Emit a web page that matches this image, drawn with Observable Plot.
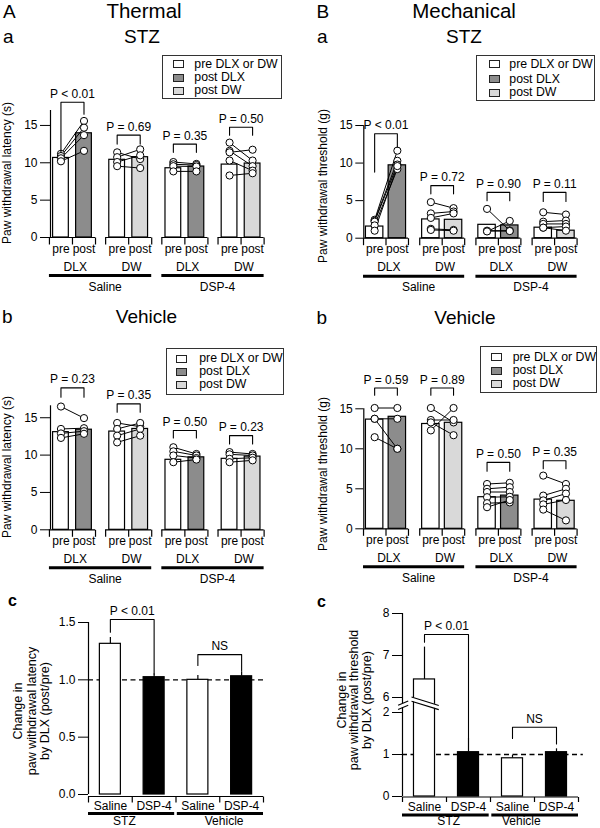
<!DOCTYPE html>
<html><head><meta charset="utf-8">
<script src="https://cdn.jsdelivr.net/npm/d3@7"></script>
<script src="https://cdn.jsdelivr.net/npm/@observablehq/plot@0.6"></script>
<style>
body{margin:0;background:#fff;}
#root{position:relative;width:600px;height:828px;overflow:hidden;font-family:'Liberation Sans',Arial,Helvetica,sans-serif;color:#000;background:#fff;}
.abs{position:absolute;line-height:1;white-space:nowrap;}
.panel{position:absolute;width:300px;}
.panel svg{overflow:visible;}
.leg{position:absolute;border:1px solid #333;box-sizing:border-box;background:#fff;}
.leg .abs{line-height:11px;}
.sq{position:absolute;width:11px;height:8px;border:1px solid #222;box-sizing:border-box;}
</style></head><body><div id="root"></div>
<script>
const FONT = "'Liberation Sans', Arial, Helvetica, sans-serif";
const WHITE = "#ffffff", DARK = "#8c8c8c", LIGHT = "#d9d9d9", BLACK = "#000000";

// ---- shared categories ----
const groupLabels = ["DLX", "DW", "DLX", "DW"];
const treatmentLabels = ["Saline", "DSP-4"];
const phaseLabels = ["pre", "post"];
const postFills = [DARK, LIGHT, DARK, LIGHT];
const legendLabels = ["pre DLX or DW", "post DLX", "post DW"];
const legendFills = [WHITE, DARK, LIGHT];

// ---- A-a Thermal / STZ ----
const thermStzPre = [10.65, 10.4, 9.27, 9.76];
const thermStzPost = [13.95, 10.75, 9.5, 9.9];
const thermStzP = ["P < 0.01", "P = 0.69", "P = 0.35", "P = 0.50"];
const thermStzBracket = [18.1, 13.7, 12.5, 14.75];
const thermStzLegPre = [11.4, 12.5, 11.4, 13.7];
const thermStzLegPost = [16.5, 12.5, 11.4, 13.7];
const thermStzRats = [
  [[11.2, 15.6], [10.9, 14.7], [10.6, 13.7], [10.2, 11.6]],
  [[11.4, 10.5], [10.75, 11.8], [10.1, 11.0], [9.55, 9.3]],
  [[10.1, 9.85], [9.8, 9.7], [9.55, 9.5], [8.85, 8.85]],
  [[12.7, 10.3], [11.6, 9.55], [11.4, 11.75], [10.3, 8.95], [8.3, 8.6]]
];
const thermTicks = [0, 5, 10, 15];

// ---- A-b Thermal / Vehicle ----
const thermVehPre = [13.07, 13.15, 9.37, 9.5];
const thermVehPost = [13.4, 13.5, 9.7, 9.8];
const thermVehP = ["P = 0.23", "P = 0.35", "P = 0.50", "P = 0.23"];
const thermVehBracket = [19.0, 16.85, 13.3, 12.6];
const thermVehLegPre = [17.75, 15.75, 12.3, 11.5];
const thermVehLegPost = [17.75, 15.75, 12.3, 11.5];
const thermVehRats = [
  [[16.5, 14.95], [13.5, 13.6], [12.9, 13.2], [12.3, 12.85]],
  [[14.3, 13.8], [13.5, 14.3], [12.6, 13.5], [11.7, 12.6]],
  [[11.05, 10.15], [10.5, 9.95], [9.95, 9.6], [9.05, 9.4]],
  [[10.4, 10.15], [10.1, 9.95], [9.5, 9.65], [9.05, 9.3]]
];

// ---- B-a Mechanical / STZ ----
const mechStzPre = [1.55, 2.5, 1.78, 1.4];
const mechStzPost = [9.7, 2.45, 1.7, 1.0];
const mechStzP = ["P < 0.01", "P = 0.72", "P = 0.90", "P = 0.11"];
const mechStzBracket = [13.9, 7.0, 6.1, 6.1];
const mechStzLegPre = [8.8, 5.9, 5.0, 4.9];
const mechStzLegPost = [12.1, 5.9, 5.0, 4.9];
const mechStzRats = [
  [[2.45, 11.65], [2.3, 10.3], [2.2, 9.8], [1.7, 9.2], [1.0, 9.6]],
  [[4.8, 4.0], [3.3, 3.55], [2.7, 3.3], [1.25, 1.1], [1.1, 1.0]],
  [[3.9, 1.0], [1.0, 1.0], [0.95, 0.95], [0.9, 2.3]],
  [[3.45, 3.15], [2.2, 2.35], [1.9, 1.9], [1.4, 1.55], [1.4, 1.0]]
];
const mechTicks = [0, 5, 10, 15];

// ---- B-b Mechanical / Vehicle ----
const mechVehPre = [13.65, 13.1, 3.95, 3.65];
const mechVehPost = [14.0, 13.25, 4.15, 3.5];
const mechVehP = ["P = 0.59", "P = 0.89", "P = 0.50", "P = 0.35"];
const mechVehBracket = [17.6, 17.6, 8.3, 8.5];
const mechVehLegPre = [16.7, 16.7, 7.2, 7.5];
const mechVehLegPost = [16.7, 16.7, 7.2, 7.5];
const mechVehRats = [
  [[15.1, 15.1], [13.75, 13.75], [13.75, 10.0], [11.45, 10.0]],
  [[15.1, 13.3], [13.6, 13.6], [12.3, 15.1], [13.3, 11.7]],
  [[5.6, 5.75], [5.0, 5.2], [4.6, 4.6], [3.95, 4.0], [3.2, 3.3], [2.7, 3.6]],
  [[6.65, 5.6], [4.15, 5.0], [3.55, 4.4], [3.05, 3.6], [2.4, 1.05]]
];

// ---- c panels: change by DLX (post/pre) ----
const ratioLabels = ["Saline", "DSP-4", "Saline", "DSP-4"];
const ratioGroups = ["STZ", "Vehicle"];
const ratioFills = [WHITE, BLACK, WHITE, BLACK];
const ratioCompare = ["P < 0.01", "NS"];
const thermRatio = [1.314, 1.023, 1.0, 1.031];
const thermRatioErr = [1.37, 1.05, 1.037, 1.07];
const thermRatioTicks = [0, 0.5, 1.0, 1.5];
const thermCompareTop = [1.526, 1.22];
const thermCompareLegs = [[1.415, 1.05], [1.125, 1.08]];
const mechRatio = [6.43, 1.055, 0.91, 1.055];
const mechRatioErr = [7.2, 1.37, 0.98, 1.135];
const mechRatioTicks = [0, 1, 2, 6, 7, 8];
const mechCompareTop = [7.5, 1.65];
const mechCompareLegs = [[7.317, 1.37], [1.38, 1.25]];
const mechBreak = [2, 6];   // axis break between these values

// ================= helpers =================
const root = document.getElementById("root");
const tickDown = (len) => ({draw(ctx) { ctx.moveTo(0, 0); ctx.lineTo(0, len); }});
const baseStyle = {fontFamily: FONT, fontSize: "12px", color: "black", background: "transparent", overflow: "visible"};

function place(node, left, top) {
  const d = document.createElement("div");
  d.className = "panel";
  d.style.left = left + "px";
  d.style.top = top + "px";
  d.appendChild(node);
  root.appendChild(d);
}
function txt(text, o) {
  const d = document.createElement("div");
  d.className = "abs";
  d.textContent = text;
  d.style.fontSize = o.fs + "px";
  if (o.weight) d.style.fontWeight = o.weight;
  d.style.top = (o.baseline - 0.8465 * o.fs) + "px";
  if (o.cx !== undefined) { d.style.left = o.cx + "px"; d.style.transform = "translateX(-50%)"; }
  else d.style.left = o.left + "px";
  root.appendChild(d);
}
function vlabel(lines, cx, cy, fs, lh) {
  const d = document.createElement("div");
  d.style.cssText = `position:absolute;left:${cx}px;top:${cy}px;transform:translate(-50%,-50%) rotate(-90deg);font-size:${fs}px;line-height:${lh}px;text-align:center;white-space:nowrap;`;
  lines.forEach((l, i) => { if (i) d.appendChild(document.createElement("br")); d.appendChild(document.createTextNode(l)); });
  root.appendChild(d);
}
function legend(b) {
  const box = document.createElement("div");
  box.className = "leg";
  box.style.cssText += `left:${b.left}px;top:${b.top}px;width:${b.width}px;height:${b.height}px;`;
  legendLabels.forEach((l, i) => {
    const sq = document.createElement("div");
    sq.className = "sq";
    sq.style.left = b.sqLeft + "px";
    sq.style.top = (b.rows[i] - 4) + "px";
    sq.style.background = legendFills[i];
    box.appendChild(sq);
    const t = document.createElement("div");
    t.className = "abs";
    t.style.fontSize = "12.3px";
    t.style.left = b.textLeft + "px";
    t.style.top = (b.rows[i] - 5.8) + "px";
    t.textContent = l;
    box.appendChild(t);
  });
  root.appendChild(box);
}

// ================= paired pre/post panel =================
function pairedPanel(c) {
  const L = c.layout;
  const xRight = L.axisPx + (4 - L.axisUnit) * L.unitPx;
  const cx = (i) => i + 0.5;
  const off = L.offset;
  const bars = [], links = [], dots = [], brackets = [];
  groupLabels.forEach((g, i) => {
    bars.push({x1: cx(i) - off - L.halfBar, x2: cx(i) - off + L.halfBar, v: c.pre[i], fill: WHITE});
    bars.push({x1: cx(i) + off - L.halfBar, x2: cx(i) + off + L.halfBar, v: c.post[i], fill: postFills[i]});
  });
  c.rats.forEach((grp, i) => grp.forEach(([a, b]) => {
    links.push({x1: cx(i) - off, y1: a, x2: cx(i) + off, y2: b});
    dots.push({x: cx(i) - off, y: a}, {x: cx(i) + off, y: b});
  }));
  c.p.forEach((t, i) => {
    brackets.push({g: i, x: cx(i) - off, y: c.legPre[i]}, {g: i, x: cx(i) - off, y: c.bracket[i]},
                  {g: i, x: cx(i) + off, y: c.bracket[i]}, {g: i, x: cx(i) + off, y: c.legPost[i]});
  });
  const pText = c.p.map((t, i) => ({x: cx(i), y: c.bracket[i], t}));
  const groupRules = groupLabels.map((g, i) => ({x1: cx(i) - L.halfGroup, x2: cx(i) + L.halfGroup, y: 0}));
  const downTicks = groupLabels.flatMap((g, i) => [cx(i) - L.halfGroup, cx(i), cx(i) + L.halfGroup]).map((x) => ({x, y: 0}));
  const phaseText = groupLabels.flatMap((g, i) => phaseLabels.map((p, j) => ({x: cx(i) + (j ? off : -off), y: 0, t: p})));
  const groupText = groupLabels.map((g, i) => ({x: cx(i) + 0.05, y: 0, t: g}));
  const treatRules = treatmentLabels.map((t, k) => ({x1: cx(2 * k) - L.halfGroup, x2: cx(2 * k + 1) + L.halfGroup, y: 0}));
  const treatText = treatmentLabels.map((t, k) => ({x: 2 * k + 1 + 0.08, y: 0, t}));
  const tAttrs = {x: "x", y: "y", text: "t", fontSize: 12, fill: "black", textAnchor: "middle", lineAnchor: "bottom"};
  return Plot.plot({
    width: 300, height: L.height,
    marginLeft: L.axisPx, marginRight: 300 - xRight, marginTop: L.marginTop, marginBottom: L.marginBottom,
    style: baseStyle,
    color: {type: "identity"},
    x: {domain: [L.axisUnit, 4], axis: null},
    y: {domain: [0, c.yMax], ticks: c.ticks, tickSize: L.tickSize, tickPadding: 3, label: null},
    marks: [
      Plot.rect(bars, {x1: "x1", x2: "x2", y1: 0, y2: "v", fill: "fill", stroke: "black", strokeWidth: 1.2}),
      Plot.link(links, {x1: "x1", y1: "y1", x2: "x2", y2: "y2", stroke: "black", strokeWidth: 1}),
      Plot.dot(dots, {x: "x", y: "y", r: 3.6, fill: "white", stroke: "black", strokeWidth: 1}),
      Plot.line(brackets, {x: "x", y: "y", z: "g", stroke: "black", strokeWidth: 1.1}),
      Plot.text(pText, {...tAttrs, dy: -4.5}),
      Plot.ruleX([L.axisUnit], {y1: 0, y2: c.axisTop, stroke: "black", strokeWidth: 1.2}),
      Plot.ruleY(groupRules, {x1: "x1", x2: "x2", y: "y", stroke: "black", strokeWidth: 1.2}),
      Plot.dot(downTicks, {x: "x", y: "y", r: 2, symbol: tickDown(7), fill: "none", stroke: "black", strokeWidth: 1.2}),
      Plot.text(phaseText, {...tAttrs, dy: 15}),
      Plot.text(groupText, {...tAttrs, dy: 33}),
      Plot.ruleY(treatRules, {x1: "x1", x2: "x2", y: "y", dy: 38, stroke: "black", strokeWidth: 3}),
      Plot.text(treatText, {...tAttrs, dy: 53})
    ]
  });
}

// ================= ratio panel =================
function ratioPanel(c) {
  const L = c.layout;
  const cx = (i) => i + 0.5;
  const d = c.disp;
  const bars = ratioLabels.map((t, i) => ({x1: cx(i) - L.halfBar, x2: cx(i) + L.halfBar, x: cx(i), v: d(c.values[i]), e: d(c.errs[i]), fill: ratioFills[i]}));
  const brackets = ratioCompare.flatMap((t, k) => {
    const a = cx(2 * k), b = cx(2 * k + 1);
    return [{g: k, x: a, y: d(c.legs[k][0])}, {g: k, x: a, y: d(c.tops[k])}, {g: k, x: b, y: d(c.tops[k])}, {g: k, x: b, y: d(c.legs[k][1])}];
  });
  const cmpText = ratioCompare.map((t, k) => ({x: (cx(2 * k) + cx(2 * k + 1)) / 2, y: d(c.tops[k]), t}));
  const downTicks = d3.range(5).map((x) => ({x, y: 0}));
  const labText = ratioLabels.map((t, i) => ({x: cx(i), y: 0, t}));
  const grpRules = ratioGroups.map((t, k) => ({x1: 2 * k + (k ? 0.03 : 0), x2: 2 * k + 2 - (k ? 0 : 0.03), y: 0}));
  const grpText = ratioGroups.map((t, k) => ({x: c.groupX[k], y: 0, t}));
  const tAttrs = {x: "x", y: "y", text: "t", fontSize: 12, fill: "black", textAnchor: "middle", lineAnchor: "bottom"};
  const top = d(c.ticks[c.ticks.length - 1]);
  const marks = [
    Plot.ruleY([1], {x1: 0, x2: L.dashX2, stroke: "black", strokeWidth: 1.3, strokeDasharray: "5,3.5"}),
    Plot.ruleX(bars, {x: "x", y1: "v", y2: "e", stroke: "black", strokeWidth: 1.2}),
    Plot.rect(bars, {x1: "x1", x2: "x2", y1: 0, y2: "v", fill: "fill", stroke: "black", strokeWidth: 1.2}),
    Plot.line(brackets, {x: "x", y: "y", z: "g", stroke: "black", strokeWidth: 1.1}),
    Plot.text(cmpText, {...tAttrs, dy: -4.5}),
    Plot.ruleY([0], {x1: 0, x2: 4, dy: L.axisDy, stroke: "black", strokeWidth: 1.2}),
    Plot.dot(downTicks, {x: "x", y: "y", dy: L.axisDy, r: 2, symbol: tickDown(L.tickLen), fill: "none", stroke: "black", strokeWidth: 1.2}),
    Plot.text(labText, {...tAttrs, dy: L.labelDy}),
    Plot.ruleY(grpRules, {x1: "x1", x2: "x2", y: "y", dy: L.ruleDy, stroke: "black", strokeWidth: 3}),
    Plot.text(grpText, {...tAttrs, dy: L.groupDy})
  ];
  if (c.breakAt) {
    const [lo, hi] = c.breakAt;
    const mid = d(lo) + (d(hi) - d(lo)) / 2;
    const sl = [mid - 0.1, mid].map((y0) => ({x1: -0.1, y1: y0 - 0.005, x2: 0.13, y2: y0 + 0.095}));
    marks.push(
      Plot.ruleX([0], {y1: 0, y2: mid - 0.065, stroke: "black", strokeWidth: 1.2}),
      Plot.ruleX([0], {y1: mid + 0.035, y2: top, stroke: "black", strokeWidth: 1.2}),
      Plot.link(sl, {x1: "x1", y1: "y1", x2: "x2", y2: "y2", stroke: "black", strokeWidth: 1.1})
    );
    const cy = mid + 0.04, xa = cx(0) - 0.295, xb = cx(0) + 0.325;
    const band = [{x: xa, y1: cy - 0.05 + 0.1, y2: cy + 0.05 + 0.1}, {x: xb, y1: cy - 0.05 - 0.1, y2: cy + 0.05 - 0.1}];
    marks.push(
      Plot.areaY(band, {x: "x", y1: "y1", y2: "y2", fill: "white"}),
      Plot.link([{x1: xa, y1: band[0].y1, x2: xb, y2: band[1].y1}, {x1: xa, y1: band[0].y2, x2: xb, y2: band[1].y2}],
        {x1: "x1", y1: "y1", x2: "x2", y2: "y2", stroke: "black", strokeWidth: 1.1})
    );
  } else {
    marks.push(Plot.ruleX([0], {y1: 0, y2: top, stroke: "black", strokeWidth: 1.2}));
  }
  return Plot.plot({
    width: 300, height: L.height,
    marginLeft: L.marginLeft, marginRight: L.marginRight, marginTop: L.marginTop, marginBottom: L.marginBottom,
    style: baseStyle,
    color: {type: "identity"},
    x: {domain: [0, 4], axis: null},
    y: {domain: [0, top], ticks: c.ticks.map(d), tickFormat: c.tickFormat, tickSize: 10, tickPadding: 3, label: null},
    marks
  });
}

// ================= build =================
const leftLayout = (h, mt, mb) => ({axisUnit: 0.109, axisPx: 50, unitPx: 56.2, offset: 0.205, halfBar: 0.14, halfGroup: 0.41, tickSize: 10, height: h, marginTop: mt, marginBottom: mb});
const rightLayout = (h, mt, mb) => ({axisUnit: 0.105, axisPx: 63.3, unitPx: 56.2, offset: 0.202, halfBar: 0.155, halfGroup: 0.4, tickSize: 8, height: h, marginTop: mt, marginBottom: mb});

place(pairedPanel({pre: thermStzPre, post: thermStzPost, p: thermStzP, bracket: thermStzBracket, legPre: thermStzLegPre, legPost: thermStzLegPost, rats: thermStzRats, yMax: 17, axisTop: 17, ticks: thermTicks, layout: leftLayout(255, 65, 63)}), 0, 45);
place(pairedPanel({pre: thermVehPre, post: thermVehPost, p: thermVehP, bracket: thermVehBracket, legPre: thermVehLegPre, legPost: thermVehLegPost, rats: thermVehRats, yMax: 17, axisTop: 16.6, ticks: thermTicks, layout: leftLayout(290, 102.3, 60.7)}), 0, 300);
place(pairedPanel({pre: mechStzPre, post: mechStzPost, p: mechStzP, bracket: mechStzBracket, legPre: mechStzLegPre, legPost: mechStzLegPost, rats: mechStzRats, yMax: 15, axisTop: 15, ticks: mechTicks, layout: rightLayout(255, 80, 62.3)}), 300, 45);
place(pairedPanel({pre: mechVehPre, post: mechVehPost, p: mechVehP, bracket: mechVehBracket, legPre: mechVehLegPre, legPost: mechVehLegPost, rats: mechVehRats, yMax: 15, axisTop: 15, ticks: mechTicks, layout: rightLayout(290, 108.3, 61.7)}), 300, 300);

place(ratioPanel({values: thermRatio, errs: thermRatioErr, ticks: thermRatioTicks, disp: (v) => v, tickFormat: d3.format(".1f"),
  tops: thermCompareTop, legs: thermCompareLegs, groupX: [0.82, 3.1],
  layout: {marginLeft: 88, marginRight: 37, marginTop: 32, marginBottom: 34, height: 238, halfBar: 0.24, axisDy: 2, tickLen: 6, labelDy: 15.5, ruleDy: 19, groupDy: 30.3, dashX2: 4}}), 0, 590);

const GAP = 15 / 42;
const mechDisp = (v) => v <= mechBreak[0] ? v : v - (mechBreak[1] - mechBreak[0]) + GAP;
place(ratioPanel({values: mechRatio, errs: mechRatioErr, ticks: mechRatioTicks, disp: mechDisp,
  tickFormat: (t) => t <= mechBreak[0] + 1e-6 ? String(Math.round(t)) : String(Math.round(t + (mechBreak[1] - mechBreak[0]) - GAP)),
  tops: mechCompareTop, legs: mechCompareLegs, groupX: [1.05, 2.7], breakAt: mechBreak,
  layout: {marginLeft: 102, marginRight: 22, marginTop: 23, marginBottom: 32, height: 238, halfBar: 0.239, axisDy: 0.5, tickLen: 5, labelDy: 14, ruleDy: 18.5, groupDy: 28.3, dashX2: 4.11}}), 300, 590);

// titles
txt("A", {left: 3, baseline: 17.6, fs: 19});
txt("Thermal", {cx: 144, baseline: 18.2, fs: 20.5});
txt("a", {left: 3, baseline: 43.3, fs: 19});
txt("STZ", {cx: 142, baseline: 43.3, fs: 19});
txt("b", {left: 2, baseline: 323.5, fs: 19});
txt("Vehicle", {cx: 146.5, baseline: 323.5, fs: 19});
txt("c", {left: 8, baseline: 606.7, fs: 16, weight: "bold"});
txt("B", {left: 316.5, baseline: 17.6, fs: 19});
txt("Mechanical", {cx: 464, baseline: 18.2, fs: 20.5});
txt("a", {left: 317, baseline: 43.3, fs: 19});
txt("STZ", {cx: 464, baseline: 43.3, fs: 19});
txt("b", {left: 316.5, baseline: 324, fs: 19});
txt("Vehicle", {cx: 465, baseline: 324, fs: 19});
txt("c", {left: 317, baseline: 608, fs: 16, weight: "bold"});

// axis titles
vlabel(["Paw withdrawal latency (s)"], 7, 173, 12, 12);
vlabel(["Paw withdrawal latency (s)"], 7, 467, 12, 12);
vlabel(["Paw withdrawal threshold (g)"], 323, 186, 12, 12);
vlabel(["Paw withdrawal threshold (g)"], 323, 474, 12, 12);
vlabel(["Change in", "paw withdrawal latency", "by DLX (post/pre)"], 32, 711, 12.5, 13.5);
vlabel(["Change in", "paw withdrawal threshold", "by DLX (post/pre)"], 353.5, 700, 12.5, 12.3);

// legends
legend({left: 162.3, top: 55, width: 119.4, height: 44, rows: [8.3, 21.7, 35], sqLeft: 9.4, textLeft: 31});
legend({left: 165.7, top: 347.7, width: 118.6, height: 47.3, rows: [10, 23.3, 36.6], sqLeft: 9.3, textLeft: 32.6});
legend({left: 476, top: 55, width: 118.7, height: 46, rows: [8.3, 23.3, 36.7], sqLeft: 12.3, textLeft: 32.3});
legend({left: 480, top: 346, width: 116.7, height: 47.3, rows: [10.3, 23.7, 37.1], sqLeft: 10, textLeft: 31.7});
</script></body></html>
